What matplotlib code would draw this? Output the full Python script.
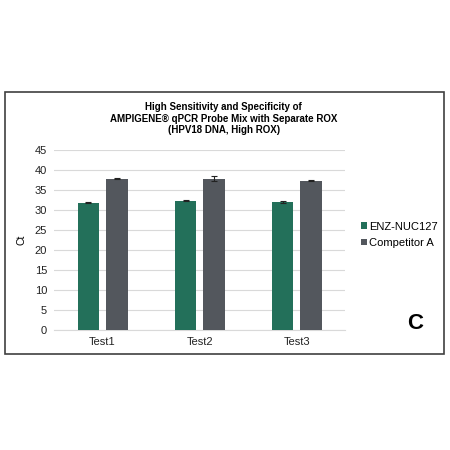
import matplotlib.pyplot as plt
import numpy as np
from matplotlib.patches import Rectangle

categories = ["Test1", "Test2", "Test3"]
enz_values = [31.8, 32.3, 32.0]
enz_errors = [0.15, 0.15, 0.15]
comp_values = [37.8, 37.8, 37.3]
comp_errors = [0.15, 0.6, 0.15]
series_names = ["ENZ-NUC127", "Competitor A"]

green = "#23705A"
grey = "#53575D"

plt.rcParams["font.family"] = ["Liberation Sans", "DejaVu Sans"]

fig = plt.figure(figsize=(4.5, 4.5), dpi=100)
fig.patch.set_facecolor("white")

# outer frame around the chart
fig.patches.append(Rectangle((0.011, 0.213), 0.976, 0.582, transform=fig.transFigure,
                             fill=False, edgecolor="#404040", linewidth=1.2))

ax = fig.add_axes([0.12, 0.2667, 0.647, 0.4])
x = np.arange(len(categories))
w = 0.225
ax.bar(x - 0.145, enz_values, w, yerr=enz_errors, color=green, label=series_names[0],
       error_kw=dict(ecolor="#222222", elinewidth=0.8, capsize=2, capthick=0.8), zorder=3)
ax.bar(x + 0.145, comp_values, w, yerr=comp_errors, color=grey, label=series_names[1],
       error_kw=dict(ecolor="#222222", elinewidth=0.8, capsize=2, capthick=0.8), zorder=3)

ax.set_xlim(-0.5, 2.5)
ax.set_ylim(0, 45)
ax.set_yticks(range(0, 46, 5))
ax.set_xticks(x)
ax.set_xticklabels(categories)
ax.tick_params(length=0, labelsize=8, colors="#222222", pad=5)
ax.yaxis.grid(True, color="#D9D9D9", linewidth=0.8, zorder=0)
for s in ["top", "right", "left"]:
    ax.spines[s].set_visible(False)
ax.spines["bottom"].set_color("#D9D9D9")
ax.set_ylabel("Ct", fontsize=7.5, labelpad=6)

tx = 0.497
fig.text(tx, 0.763, "High Sensitivity and Specificity of", ha="center", va="center",
         fontsize=7, fontweight="bold")
fig.text(tx, 0.736, "AMPIGENE® qPCR Probe Mix with Separate ROX", ha="center",
         va="center", fontsize=7, fontweight="bold")
fig.text(tx, 0.712, "(HPV18 DNA, High ROX)", ha="center", va="center",
         fontsize=7, fontweight="bold")

ax.legend(loc="center left", bbox_to_anchor=(1.02, 0.53), frameon=False, fontsize=8,
          handlelength=0.5, handleheight=0.5, handletextpad=0.2, labelspacing=0.55)

fig.text(0.922, 0.282, "C", ha="center", va="center", fontsize=16, fontweight="bold")

fig.savefig("out.png", dpi=100)
